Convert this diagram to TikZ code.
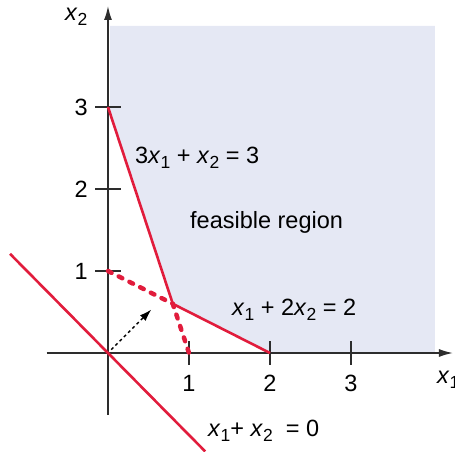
\documentclass[tikz,border=0pt]{standalone}
\usepackage{fontspec}
\setmainfont{Liberation Sans}
\usetikzlibrary{arrows.meta}
\definecolor{redline}{RGB}{225,28,60}
\definecolor{feasfill}{RGB}{229,232,244}
\definecolor{axisgray}{RGB}{45,45,45}
\newcommand{\xsub}[1]{\textit{x}\raisebox{-5pt}{\fontsize{17.5}{20}\selectfont #1}}
\tikzset{
  axisline/.style={draw=axisgray,line width=1.5pt},
  tickline/.style={draw=axisgray,line width=1.3pt},
  conline/.style={draw=redline,line width=2.6pt},
  dashcon/.style={draw=redline,line width=4.5pt,line cap=round,dash pattern=on 4pt off 8pt},
  lbl/.style={inner sep=0pt,font=\fontsize{23.5}{28}\selectfont},
}
\begin{document}
\begin{tikzpicture}[x=81pt,y=82pt]
\useasboundingbox (-1.3333,-1.1951) rectangle (4.2840,4.3049);
% points
\coordinate (O) at (0,0);
\coordinate (A) at (0,3);
\coordinate (B) at (0.8,0.6);
\coordinate (C) at (2,0);
\coordinate (D) at (0,1);
\coordinate (E) at (1,0);
\coordinate (Ftl) at (0.025,3.988);
\coordinate (Ftr) at (4.037,3.988);
\coordinate (Fbr) at (4.037,0);
\coordinate (Fl) at (0.025,2.925);
\coordinate (Xl) at (-0.757,0);
\coordinate (Xr) at (4.259,0);
\coordinate (Yb) at (0,-0.756);
\coordinate (Yt) at (0,4.232);
\coordinate (Ls) at (-1.21,1.21);
\coordinate (Le) at (1.2,-1.2);
\coordinate (Gs) at (0.04,0.04);
\coordinate (Ge) at (0.535,0.53);
% feasible region
\fill[feasfill] (Ftl) -- (Ftr) -- (Fbr) -- (C) -- (B) -- (Fl) -- cycle;
% axes
\draw[axisline,-{Latex[length=14pt,width=8pt]}] (Xl) -- (Xr);
\draw[axisline,-{Latex[length=14pt,width=8pt]}] (Yb) -- (Yt);
% ticks
\foreach \i in {1,2,3}{
  \coordinate (xt\i a) at (\i,-0.146);
  \coordinate (xt\i b) at (\i,0.146);
  \coordinate (yt\i a) at (-0.16,\i);
  \coordinate (yt\i b) at (0.16,\i);
  \draw[tickline] (xt\i a) -- (xt\i b);
  \draw[tickline] (yt\i a) -- (yt\i b);
  \node[lbl,anchor=center] (xl\i) at (\i,-0.366) {\i};
  \node[lbl,anchor=east] (yl\i) at (-0.247,\i) {\i};
}
% constraint lines
\draw[conline] (A) -- (B) -- (C);
\draw[dashcon] (D) -- (B) -- (E);
\draw[conline] (Ls) -- (Le);
% gradient arrow
\draw[black,line width=1.4pt,dash pattern=on 3pt off 3pt,-{Latex[length=12pt,width=8pt]}] (Gs) -- (Ge);
% labels
\node[lbl,anchor=base west] (lab1) at (0.333,2.317) {3\xsub{1} + \xsub{2} = 3};
\node[lbl,anchor=base west] (lab2) at (1.531,0.463) {\xsub{1} + 2\xsub{2} = 2};
\node[lbl,anchor=base west] (lab3) at (1.235,-1.024) {\xsub{1}+ \xsub{2}\ \ = 0};
\node[lbl,anchor=base west] (feas) at (1.012,1.524) {feasible region};
\node[lbl,anchor=base west] (ax1) at (4.062,-0.366) {\xsub{1}};
\node[lbl,anchor=base west] (ax2) at (-0.531,4.049) {\xsub{2}};
\end{tikzpicture}
\end{document}
